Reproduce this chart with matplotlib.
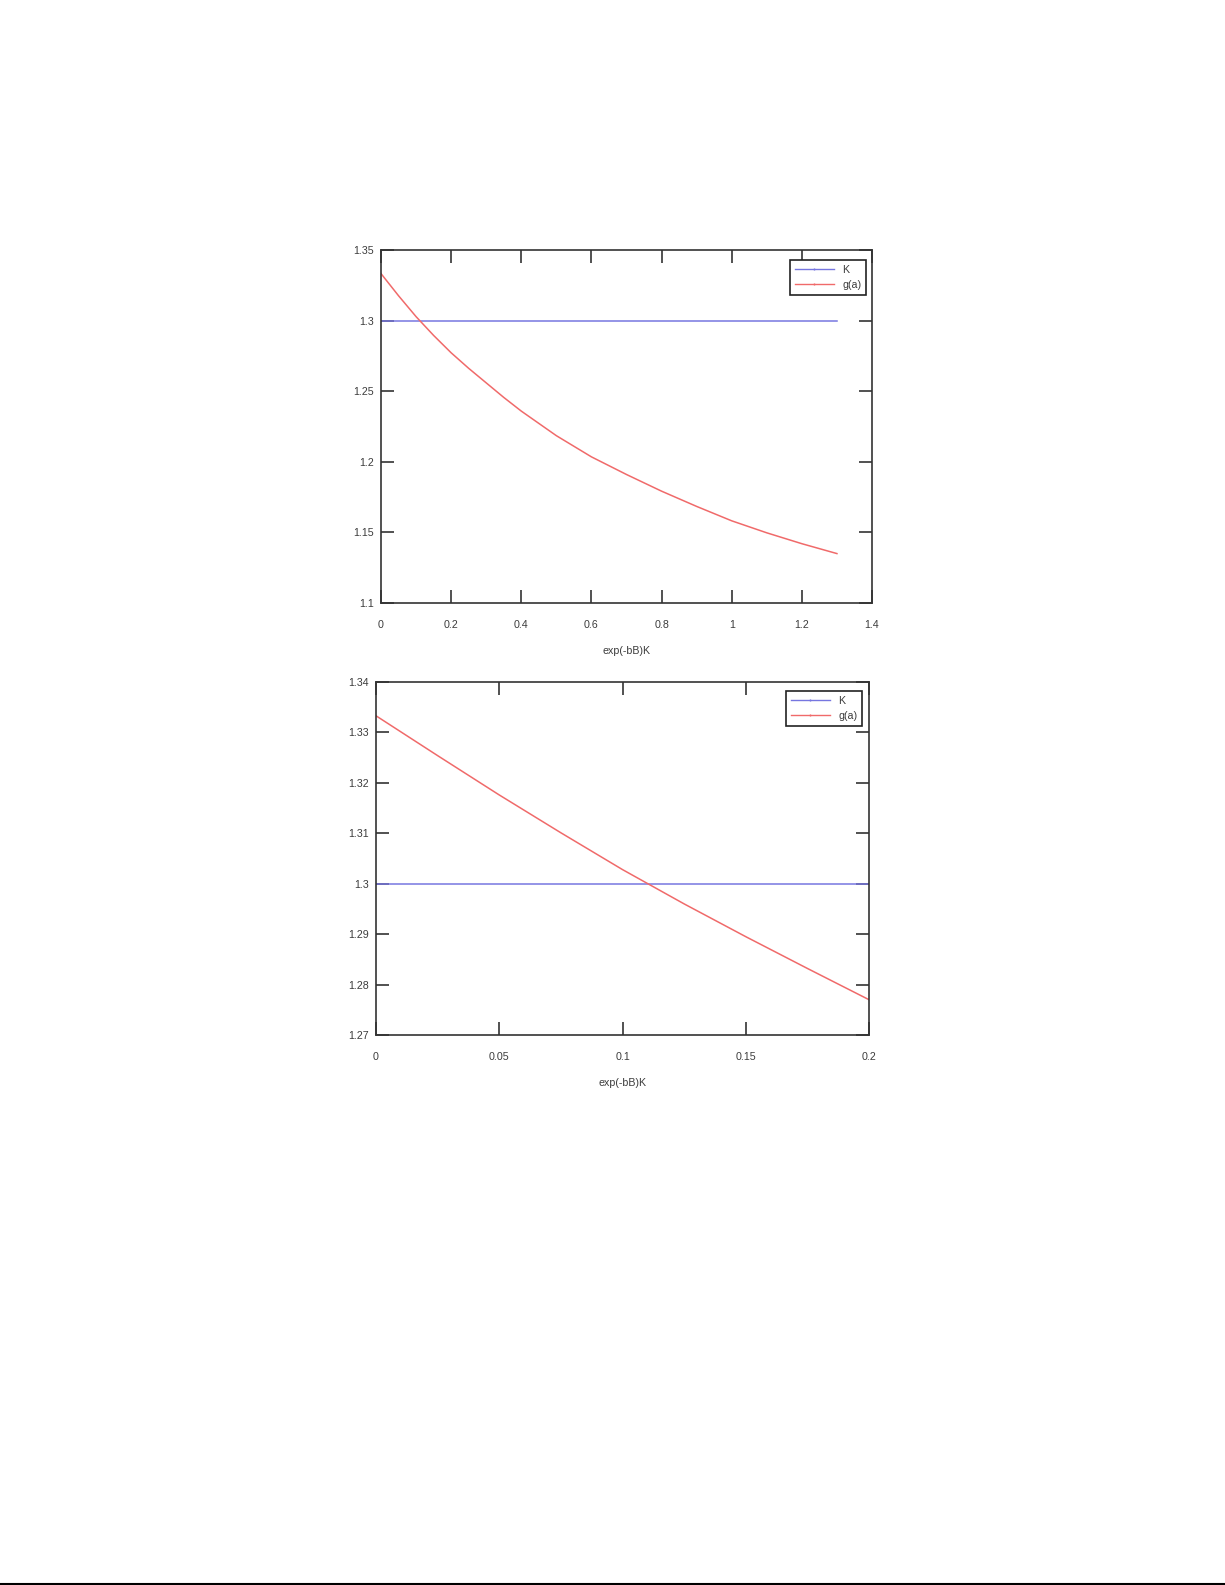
import matplotlib
matplotlib.use("Agg")
import matplotlib.pyplot as plt
from matplotlib.lines import Line2D

plt.rcParams['font.family'] = ['Liberation Sans', 'DejaVu Sans']

# ---- data ----
top_x = [0.0, 0.05, 0.1, 0.15, 0.2, 0.25, 0.3, 0.35, 0.4, 0.5, 0.6, 0.7,
         0.8, 0.9, 1.0, 1.1, 1.2, 1.3]
top_g = [1.3333, 1.3176, 1.3028, 1.2895, 1.2772, 1.2662, 1.2559, 1.2456,
         1.2359, 1.2185, 1.2035, 1.1910, 1.1792, 1.1684, 1.1582, 1.1497,
         1.1420, 1.1350]
top_K = [1.3] * len(top_x)

bot_x = [0.0, 0.025, 0.05, 0.075, 0.1, 0.125, 0.15, 0.175, 0.2]
bot_g = [1.3333, 1.3254, 1.3176, 1.3101, 1.3028, 1.2960, 1.2895, 1.2832, 1.2770]
bot_K = [1.3] * len(bot_x)

top_xticks = [0, 0.2, 0.4, 0.6, 0.8, 1.0, 1.2, 1.4]
top_xlabels = ['0', '0.2', '0.4', '0.6', '0.8', '1', '1.2', '1.4']
top_yticks = [1.1, 1.15, 1.2, 1.25, 1.3, 1.35]
top_ylabels = ['1.1', '1.15', '1.2', '1.25', '1.3', '1.35']

bot_xticks = [0, 0.05, 0.1, 0.15, 0.2]
bot_xlabels = ['0', '0.05', '0.1', '0.15', '0.2']
bot_yticks = [1.27, 1.28, 1.29, 1.30, 1.31, 1.32, 1.33, 1.34]
bot_ylabels = ['1.27', '1.28', '1.29', '1.3', '1.31', '1.32', '1.33', '1.34']

xlabel = 'exp(-bB)K'
series_names = ['K', 'g(a)']

BLUE = '#7676e0'
RED = '#f06a6a'
TXT = '#3c3c3c'
FS = 7.7
W, H = 1225, 1585

fig = plt.figure(figsize=(W / 100, H / 100), dpi=100)


def make_axes(rect_px, xs, g, K, xlim, ylim, xticks, xlabels, yticks, ylabels, leg_off):
    l, t, r, b = rect_px
    ax = fig.add_axes([l / W, 1 - b / H, (r - l) / W, (b - t) / H])
    ax.plot(xs, K, color=BLUE, lw=1.1)
    ax.plot(xs, g, color=RED, lw=1.1)
    ax.set_xlim(*xlim)
    ax.set_ylim(*ylim)
    ax.set_xticks(xticks)
    ax.set_xticklabels(xlabels)
    ax.set_yticks(yticks)
    ax.set_yticklabels(ylabels)
    ax.tick_params(direction='in', length=9.5, width=1.2, top=True, right=True,
                   labelsize=FS, color='#333333', labelcolor=TXT)
    ax.tick_params(axis='x', pad=12)
    ax.tick_params(axis='y', pad=5)
    for s in ax.spines.values():
        s.set_linewidth(1.2)
        s.set_color('#333333')
    ax.set_xlabel(xlabel, fontsize=FS, color=TXT, labelpad=12)
    handles = [Line2D([0, 0.5, 1], [0, 0, 0], color=BLUE, lw=1.0, marker='|',
                      markersize=2, markevery=[1]),
               Line2D([0, 0.5, 1], [0, 0, 0], color=RED, lw=1.0, marker='|',
                      markersize=2, markevery=[1])]
    dx, dy = leg_off
    leg = ax.legend(handles, series_names, loc='upper right',
                    bbox_to_anchor=(1 - dx / (r - l), 1 - dy / (b - t)),
                    borderaxespad=0, fontsize=FS, handlelength=3.6,
                    labelspacing=0.5, fancybox=False, framealpha=1,
                    edgecolor='#222222', borderpad=0.45, handletextpad=0.8)
    leg.get_frame().set_linewidth(1.2)
    for t_ in leg.get_texts():
        t_.set_color(TXT)
    return ax


make_axes((381, 250, 872, 603), top_x, top_g, top_K, (0, 1.4), (1.1, 1.35),
          top_xticks, top_xlabels, top_yticks, top_ylabels, (6, 10))
make_axes((376, 682, 869, 1035), bot_x, bot_g, bot_K, (0, 0.2), (1.27, 1.34),
          bot_xticks, bot_xlabels, bot_yticks, bot_ylabels, (7, 9))

# thin page-edge line at the bottom
fig.add_artist(Line2D([0, 1], [1.5 / H, 1.5 / H], color='black', lw=1.5,
                      transform=fig.transFigure))

fig.savefig('out.png', dpi=100)
